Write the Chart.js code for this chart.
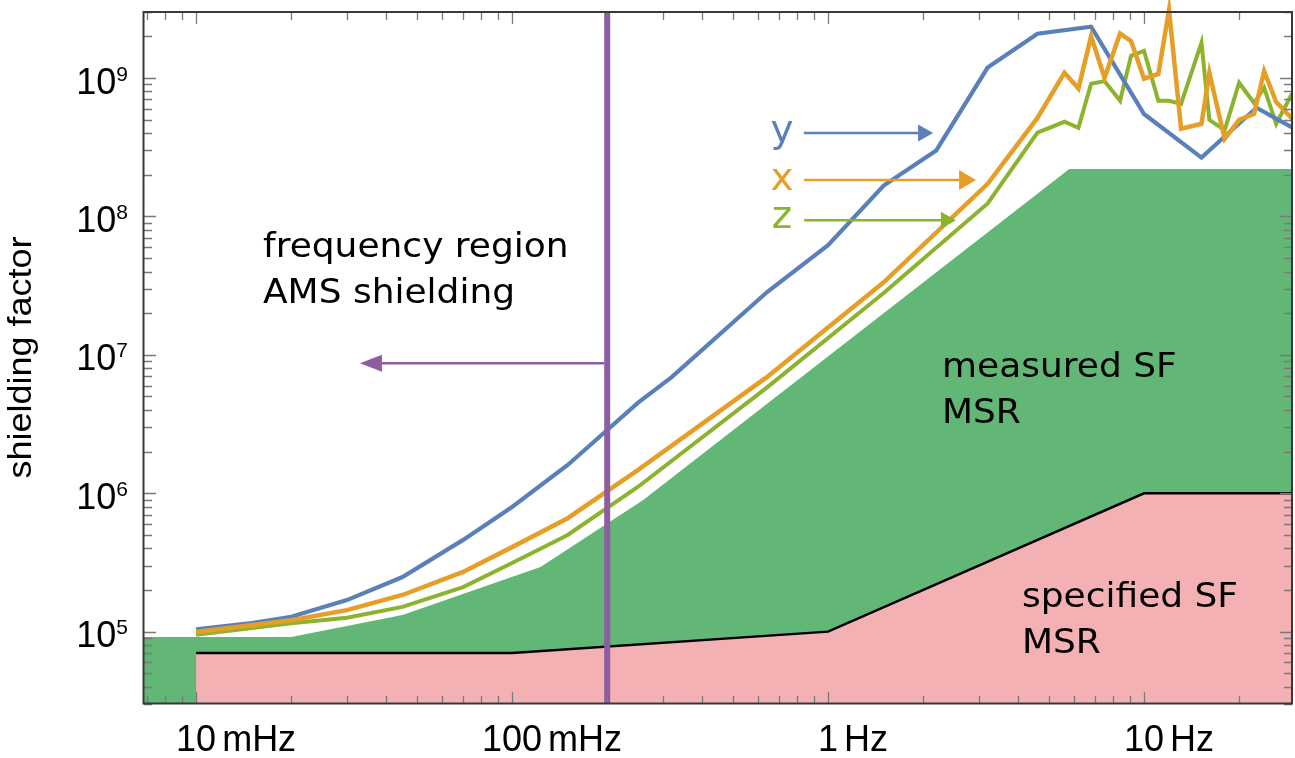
<!DOCTYPE html>
<html>
<head>
<meta charset="utf-8">
<title>Shielding factor</title>
<script src="https://cdn.jsdelivr.net/npm/chart.js@4.4.1/dist/chart.umd.min.js"></script>
<style>
  html, body { margin: 0; padding: 0; background: #fff; }
  #wrap { width: 1295px; height: 758px; }
</style>
</head>
<body>
<div id="wrap"><canvas id="sfChart" width="1295" height="758"></canvas></div>
<script>
// measured shielding factor per axis (Hz -> factor)
const freqY = [0.01, 0.015, 0.02, 0.03, 0.045, 0.07, 0.1, 0.15, 0.25, 0.32, 0.64, 1.0, 1.5, 2.2, 3.2, 4.6, 6.8, 10, 15.2, 22.7, 29.4];
const sfY = [1.04e5, 1.155e5, 1.28e5, 1.69e5, 2.48e5, 4.6e5, 7.95e5, 1.6e6, 4.5e6, 6.9e6, 2.83e7, 6.2e7, 1.67e8, 3.0e8, 1.19e9, 2.09e9, 2.35e9, 5.5e8, 2.66e8, 6.1e8, 4.4e8];

const freqXZ = [0.01, 0.02, 0.03, 0.045, 0.07, 0.1, 0.15, 0.25, 0.64, 1.5, 3.2, 4.6, 5.6, 6.2, 6.8, 7.5, 8.4, 9.1, 10, 11.1, 12, 13.1, 15.2, 16.1, 18, 20, 22.3, 24, 26.2, 29.4];
const sfX = [9.95e4, 1.21e5, 1.43e5, 1.84e5, 2.7e5, 4.08e5, 6.6e5, 1.47e6, 6.9e6, 3.34e7, 1.72e8, 5.15e8, 1.09e9, 8.4e8, 2.0e9, 1.0e9, 2.1e9, 1.85e9, 9.9e8, 1.07e9, 3.1e9, 4.3e8, 4.67e8, 1.09e9, 3.63e8, 4.98e8, 5.5e8, 1.12e9, 6.7e8, 5.1e8];
const sfZ = [9.5e4, 1.15e5, 1.26e5, 1.51e5, 2.1e5, 3.13e5, 4.99e5, 1.11e6, 5.8e6, 2.8e7, 1.24e8, 4.03e8, 4.83e8, 4.37e8, 9.1e8, 9.5e8, 6.85e8, 1.45e9, 1.57e9, 6.85e8, 6.85e8, 6.5e8, 1.8e9, 4.98e8, 4.2e8, 9.25e8, 6.6e8, 8.5e8, 4.67e8, 7.7e8];

// MSR envelopes
const freqMeasured = [0.00684, 0.02, 0.045, 0.123, 0.26, 5.8, 29.4];
const sfMeasured = [9.16e4, 9.16e4, 1.32e5, 2.93e5, 8.95e5, 2.2e8, 2.2e8];
const freqSpecified = [0.01, 0.1, 1, 10, 29.4];
const sfSpecified = [7e4, 7e4, 1e5, 1e6, 1e6];

// upper end of the AMS shielding band
const amsLimit = 0.2;

const xMin = 0.00684, xMax = 29.4;
const yMin = 3e4, yMax = 3e9;

const xTickValues = [0.01, 0.1, 1, 10];
const xTickNumbers = ['10', '100', '1', '10'];
const xTickUnits = ['mHz', 'mHz', 'Hz', 'Hz'];
const yTickExponents = [5, 6, 7, 8, 9];

const COLORS = {
  y: '#5a80ba',
  x: '#e69e26',
  z: '#8bb32e',
  ams: '#8e5ca0',
  measured: '#62b776',
  specified: '#f4b1b4'
};

function toPoints(xs, ys) {
  return xs.map((x, i) => ({ x: x, y: ys[i] }));
}

// 1..9 x 10^n values inside [lo, hi]
function logTickValues(lo, hi) {
  const out = [];
  for (let e = Math.floor(Math.log10(lo)); e <= Math.ceil(Math.log10(hi)); e++) {
    for (let m = 1; m <= 9; m++) {
      const v = m * Math.pow(10, e);
      if (v >= lo * 0.999 && v <= hi * 1.001) out.push({ v: v, major: m === 1 });
    }
  }
  return out;
}

function stretchText(ctx, text, x, y, sx, align) {
  ctx.save();
  ctx.translate(x, y);
  ctx.scale(sx, 1);
  ctx.textAlign = align || 'left';
  ctx.fillText(text, 0, 0);
  ctx.restore();
}

function arrow(ctx, x0, y0, x1, y1, color, width, headLen, headHalf) {
  const dir = Math.sign(x1 - x0);
  ctx.save();
  ctx.strokeStyle = color;
  ctx.fillStyle = color;
  ctx.lineWidth = width;
  ctx.beginPath();
  ctx.moveTo(x0, y0);
  ctx.lineTo(x1 - dir * headLen, y1);
  ctx.stroke();
  ctx.beginPath();
  ctx.moveTo(x1, y1);
  ctx.lineTo(x1 - dir * headLen, y1 - headHalf);
  ctx.lineTo(x1 - dir * headLen, y1 + headHalf);
  ctx.closePath();
  ctx.fill();
  ctx.restore();
}

const axesPlugin = {
  id: 'axesPlugin',
  afterDraw(chart) {
    const ctx = chart.ctx;
    const a = chart.chartArea;
    const xs = chart.scales.x;
    const ys = chart.scales.y;

    // inward ticks on all four sides
    ctx.save();
    ctx.strokeStyle = '#7a7a7a';
    ctx.lineWidth = 1.3;
    logTickValues(xMin, xMax).forEach(t => {
      const px = Math.round(xs.getPixelForValue(t.v)) + 0.5;
      const len = t.major ? 12 : 8;
      ctx.beginPath();
      ctx.moveTo(px, a.bottom); ctx.lineTo(px, a.bottom - len);
      ctx.moveTo(px, a.top); ctx.lineTo(px, a.top + len);
      ctx.stroke();
    });
    logTickValues(yMin, yMax).forEach(t => {
      const py = Math.round(ys.getPixelForValue(t.v)) + 0.5;
      const len = t.major ? 12 : 8;
      ctx.beginPath();
      ctx.moveTo(a.left, py); ctx.lineTo(a.left + len, py);
      ctx.moveTo(a.right, py); ctx.lineTo(a.right - len, py);
      ctx.stroke();
    });
    ctx.restore();

    // frame
    ctx.save();
    ctx.strokeStyle = '#383838';
    ctx.lineWidth = 2;
    ctx.strokeRect(a.left - 0.5, a.top, a.right - a.left + 0.5, a.bottom - a.top - 0.5);
    ctx.restore();

    ctx.save();
    ctx.fillStyle = '#000';
    ctx.textBaseline = 'alphabetic';

    // x tick labels: number centred on the tick, unit after it
    xTickValues.forEach((v, i) => {
      const px = xs.getPixelForValue(v);
      ctx.font = '36px "Liberation Sans", Arial, sans-serif';
      const nw = ctx.measureText(xTickNumbers[i]).width;
      ctx.textAlign = 'center';
      ctx.fillText(xTickNumbers[i], px, 751);
      ctx.textAlign = 'left';
      ctx.fillText(xTickUnits[i], px + nw / 2 + 6, 751);
    });

    // y tick labels as 10^n
    yTickExponents.forEach(e => {
      const py = ys.getPixelForValue(Math.pow(10, e));
      const right = 128;
      ctx.font = '21px "Liberation Sans", Arial, sans-serif';
      const sw = ctx.measureText(String(e)).width;
      ctx.textAlign = 'left';
      ctx.fillText(String(e), right - sw, py + 2.5);
      ctx.font = '36px "Liberation Sans", Arial, sans-serif';
      ctx.textAlign = 'right';
      ctx.fillText('10', right - sw, py + 15.5);
    });

    // y axis title
    ctx.save();
    ctx.translate(31, 357.5);
    ctx.rotate(-Math.PI / 2);
    ctx.font = '33px "Liberation Sans", Arial, sans-serif';
    stretchText(ctx, 'shielding factor', 0, 0, 1.09, 'center');
    ctx.restore();

    // region annotations
    ctx.font = '33px "DejaVu Sans", Verdana, sans-serif';
    const sx = 1.09;
    stretchText(ctx, 'frequency region', 263, 257, sx);
    stretchText(ctx, 'AMS shielding', 263, 303, sx);
    stretchText(ctx, 'measured SF', 942, 377, sx);
    stretchText(ctx, 'MSR', 942, 423, sx);
    stretchText(ctx, 'specified SF', 1022, 607, sx);
    stretchText(ctx, 'MSR', 1022, 653, sx);

    // axis labels of the three curves
    ctx.font = '39px "DejaVu Sans", Verdana, sans-serif';
    ctx.textAlign = 'center';
    ctx.fillStyle = COLORS.y; ctx.fillText('y', 782, 142);
    ctx.fillStyle = COLORS.x; ctx.fillText('x', 782, 190);
    ctx.fillStyle = COLORS.z; ctx.fillText('z', 782, 228);
    ctx.restore();

    // arrows, anchored in data space
    const X = f => xs.getPixelForValue(f);
    const Y = v => ys.getPixelForValue(v);
    arrow(ctx, X(amsLimit) - 3, Y(8.7e6), X(0.033), Y(8.7e6), COLORS.ams, 2.5, 22, 8.5);
    arrow(ctx, X(0.838), Y(4.0e8), X(2.15), Y(4.0e8), COLORS.y, 2.5, 15, 8.5);
    arrow(ctx, X(0.84), Y(1.83e8), X(2.94), Y(1.83e8), COLORS.x, 2.5, 17, 10);
    arrow(ctx, X(0.84), Y(9.4e7), X(2.54), Y(9.4e7), COLORS.z, 2.5, 15, 8.5);
  }
};

const lineDefaults = { pointRadius: 0, fill: false, tension: 0, borderJoinStyle: 'miter' };

new Chart(document.getElementById('sfChart'), {
  type: 'line',
  data: {
    datasets: [
      {
        ...lineDefaults,
        label: 'AMS limit',
        data: [{ x: amsLimit, y: yMin }, { x: amsLimit, y: yMax }],
        borderColor: COLORS.ams,
        borderWidth: 6,
        order: 0
      },
      {
        ...lineDefaults,
        label: 'x',
        data: toPoints(freqXZ, sfX),
        borderColor: COLORS.x,
        borderWidth: 4.5,
        clip: false,
        order: 1
      },
      {
        ...lineDefaults,
        label: 'y',
        data: toPoints(freqY, sfY),
        borderColor: COLORS.y,
        borderWidth: 4.2,
        order: 2
      },
      {
        ...lineDefaults,
        label: 'z',
        data: toPoints(freqXZ, sfZ),
        borderColor: COLORS.z,
        borderWidth: 4,
        order: 3
      },
      {
        ...lineDefaults,
        label: 'specified SF MSR',
        data: toPoints(freqSpecified, sfSpecified),
        borderColor: '#000',
        borderWidth: 2.5,
        backgroundColor: COLORS.specified,
        fill: 'start',
        order: 4
      },
      {
        ...lineDefaults,
        label: 'measured SF MSR',
        data: toPoints(freqMeasured, sfMeasured),
        borderWidth: 0,
        borderColor: 'rgba(0,0,0,0)',
        backgroundColor: COLORS.measured,
        fill: 'start',
        order: 5
      }
    ]
  },
  options: {
    responsive: false,
    animation: false,
    events: [],
    layout: { padding: { left: 144, right: 3, top: 12, bottom: 54 } },
    plugins: {
      legend: { display: false },
      tooltip: { enabled: false }
    },
    scales: {
      x: { type: 'logarithmic', min: xMin, max: xMax, bounds: 'data', display: false },
      y: { type: 'logarithmic', min: yMin, max: yMax, bounds: 'data', display: false }
    }
  },
  plugins: [axesPlugin]
});
</script>
</body>
</html>
